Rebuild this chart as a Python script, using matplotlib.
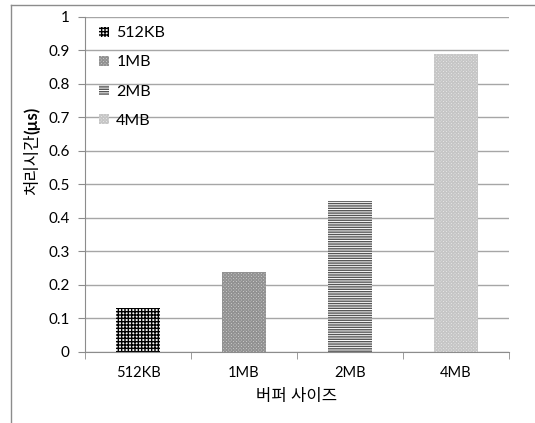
import numpy as np
import matplotlib
matplotlib.use("Agg")
import matplotlib.pyplot as plt
from matplotlib.lines import Line2D

plt.rcParams['font.family'] = ['Lato', 'Noto Sans CJK KR', 'DejaVu Sans']
plt.rcParams['hatch.linewidth'] = 1.0

# data ..........................................................................
sizes = ['512KB', '1MB', '2MB', '4MB']
times = [0.13, 0.24, 0.45, 0.89]
hatches = ['+++++', 'xxxxxxxxxx', '-------', 'xxxxxxxxxx']
faces = ['#f4f4f4', '#dcdcdc', 'white', '#efefef']
edges = ['black', '#929292', '#555555', '#c6c6c6']

fig = plt.figure(figsize=(5.35, 4.23), dpi=100)
ax = fig.add_axes([0.159, 0.168, 0.792, 0.792])

x = np.arange(len(sizes))
for i in range(len(sizes)):
    ax.bar(x[i], times[i], width=0.42, color=faces[i], edgecolor=edges[i],
           hatch=hatches[i], linewidth=0, label=sizes[i], zorder=2)

ax.set_xlim(-0.5, len(sizes) - 0.5)
ax.set_ylim(0, 1)
ax.set_yticks(np.arange(0, 1.01, 0.1))
ax.set_yticklabels(['0', '0.1', '0.2', '0.3', '0.4', '0.5', '0.6', '0.7', '0.8', '0.9', '1'])
ax.set_xticks(x)
ax.set_xticklabels(sizes)
ax.set_xticks(np.arange(-0.5, len(sizes), 1), minor=True)
ax.tick_params(axis='x', which='major', length=0, pad=10, labelsize=10.5)
ax.tick_params(axis='x', which='minor', length=5, color='#8c8c8c', direction='out')
ax.tick_params(axis='y', length=5, color='#8c8c8c', labelsize=11, pad=6)

ax.grid(axis='y', color='#a6a6a6', linewidth=1, zorder=0)
ax.set_axisbelow(True)
for s in ['top', 'right']:
    ax.spines[s].set_visible(False)
for s in ['left', 'bottom']:
    ax.spines[s].set_color('#8c8c8c')

ax.set_xlabel('버퍼 사이즈', fontsize=12, labelpad=6)

# y label: korean part normal, unit bold
fig.canvas.draw()
t1 = fig.text(0.06, (423 - 195) / 423, '처리시간', rotation=90, fontsize=12,
              ha='center', va='bottom')
fig.canvas.draw()
bb = t1.get_window_extent()
fig.text(0.06, bb.y1 / fig.bbox.height, '(µs)', rotation=90, fontsize=12,
         fontweight='bold', ha='center', va='bottom')

leg = ax.legend(loc='upper left', bbox_to_anchor=(0.0, 1.015), frameon=False,
                fontsize=11.5, handlelength=0.6, handleheight=0.6,
                handletextpad=0.45, labelspacing=0.95)

# outer frame
fig.add_artist(Line2D([11 / 535, 1], [1 - 5 / 423, 1 - 5 / 423], color='#8c8c8c', lw=1))
fig.add_artist(Line2D([11 / 535, 11 / 535], [0, 1 - 5 / 423], color='#8c8c8c', lw=1))

plt.savefig('out.png', dpi=100)
